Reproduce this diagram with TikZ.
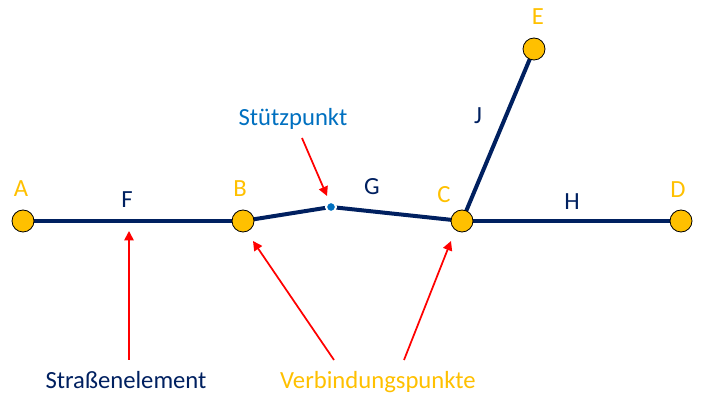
\documentclass[tikz,border=0pt]{standalone}
\usepackage{fontspec}
\setmainfont{Carlito}
\usetikzlibrary{arrows.meta}
\definecolor{navy}{HTML}{002060}
\definecolor{gold}{HTML}{FFC000}
\definecolor{sblue}{HTML}{0070C0}
\begin{document}
\begin{tikzpicture}[x=0.75pt,y=-0.75pt,
  junction/.style={circle,draw=black,line width=0.6pt,fill=gold,minimum size=16.5pt,inner sep=0pt},
  vertex/.style={circle,fill=sblue,draw=white,line width=1.5pt,minimum size=7.5pt,inner sep=0pt},
  road/.style={draw=navy,line width=3pt},
  pointer/.style={draw=red,line width=1.3pt,-{Triangle[length=7pt,width=7pt]}},
  lbl/.style={anchor=base,inner sep=0pt,font=\fontsize{18.5}{22}\selectfont},
  jlbl/.style={lbl,text=gold},
  elbl/.style={lbl,text=navy}]
\useasboundingbox (0,0) rectangle (703,402);
% road elements
\coordinate (vA) at (23,221);
\coordinate (vB) at (243,221);
\coordinate (vS) at (331,207);
\coordinate (vC) at (462,221);
\coordinate (vD) at (681,221);
\coordinate (vE) at (534,49);
\draw[road] (vA) -- (vB);
\draw[road] (vB) -- (vS) -- (vC);
\draw[road] (vC) -- (vD);
\draw[road] (vC) -- (vE);
\node[vertex] (S) at (vS) {};
\node[junction] (A) at (vA) {};
\node[junction] (B) at (vB) {};
\node[junction] (C) at (vC) {};
\node[junction] (D) at (vD) {};
\node[junction] (E) at (vE) {};
% labels
\node[jlbl] (lA) at (21,197) {A};
\node[jlbl] (lB) at (240,197) {B};
\node[jlbl] (lC) at (444,203) {C};
\node[jlbl] (lD) at (678,198) {D};
\node[jlbl] (lE) at (538,25) {E};
\node[elbl] (lF) at (127,208) {F};
\node[elbl] (lG) at (372,195) {G};
\node[elbl] (lH) at (572,210) {H};
\node[elbl] (lJ) at (478,124) {J};
\node[lbl,text=sblue] (stp) at (293,126) {Stützpunkt};
\node[lbl,text=navy] (str) at (126,388) {Straßenelement};
\node[lbl,text=gold] (vbp) at (378,388) {Verbindungspunkte};
% pointers
\coordinate (p1s) at (129,360);
\coordinate (p1e) at (129,231);
\coordinate (p2s) at (302,138);
\coordinate (p2e) at (327,196);
\coordinate (p3s) at (334,360);
\coordinate (p3e) at (253,241);
\coordinate (p4s) at (404,360);
\coordinate (p4e) at (451,241);
\draw[pointer] (p1s) -- (p1e);
\draw[pointer] (p2s) -- (p2e);
\draw[pointer] (p3s) -- (p3e);
\draw[pointer] (p4s) -- (p4e);
\end{tikzpicture}
\end{document}
